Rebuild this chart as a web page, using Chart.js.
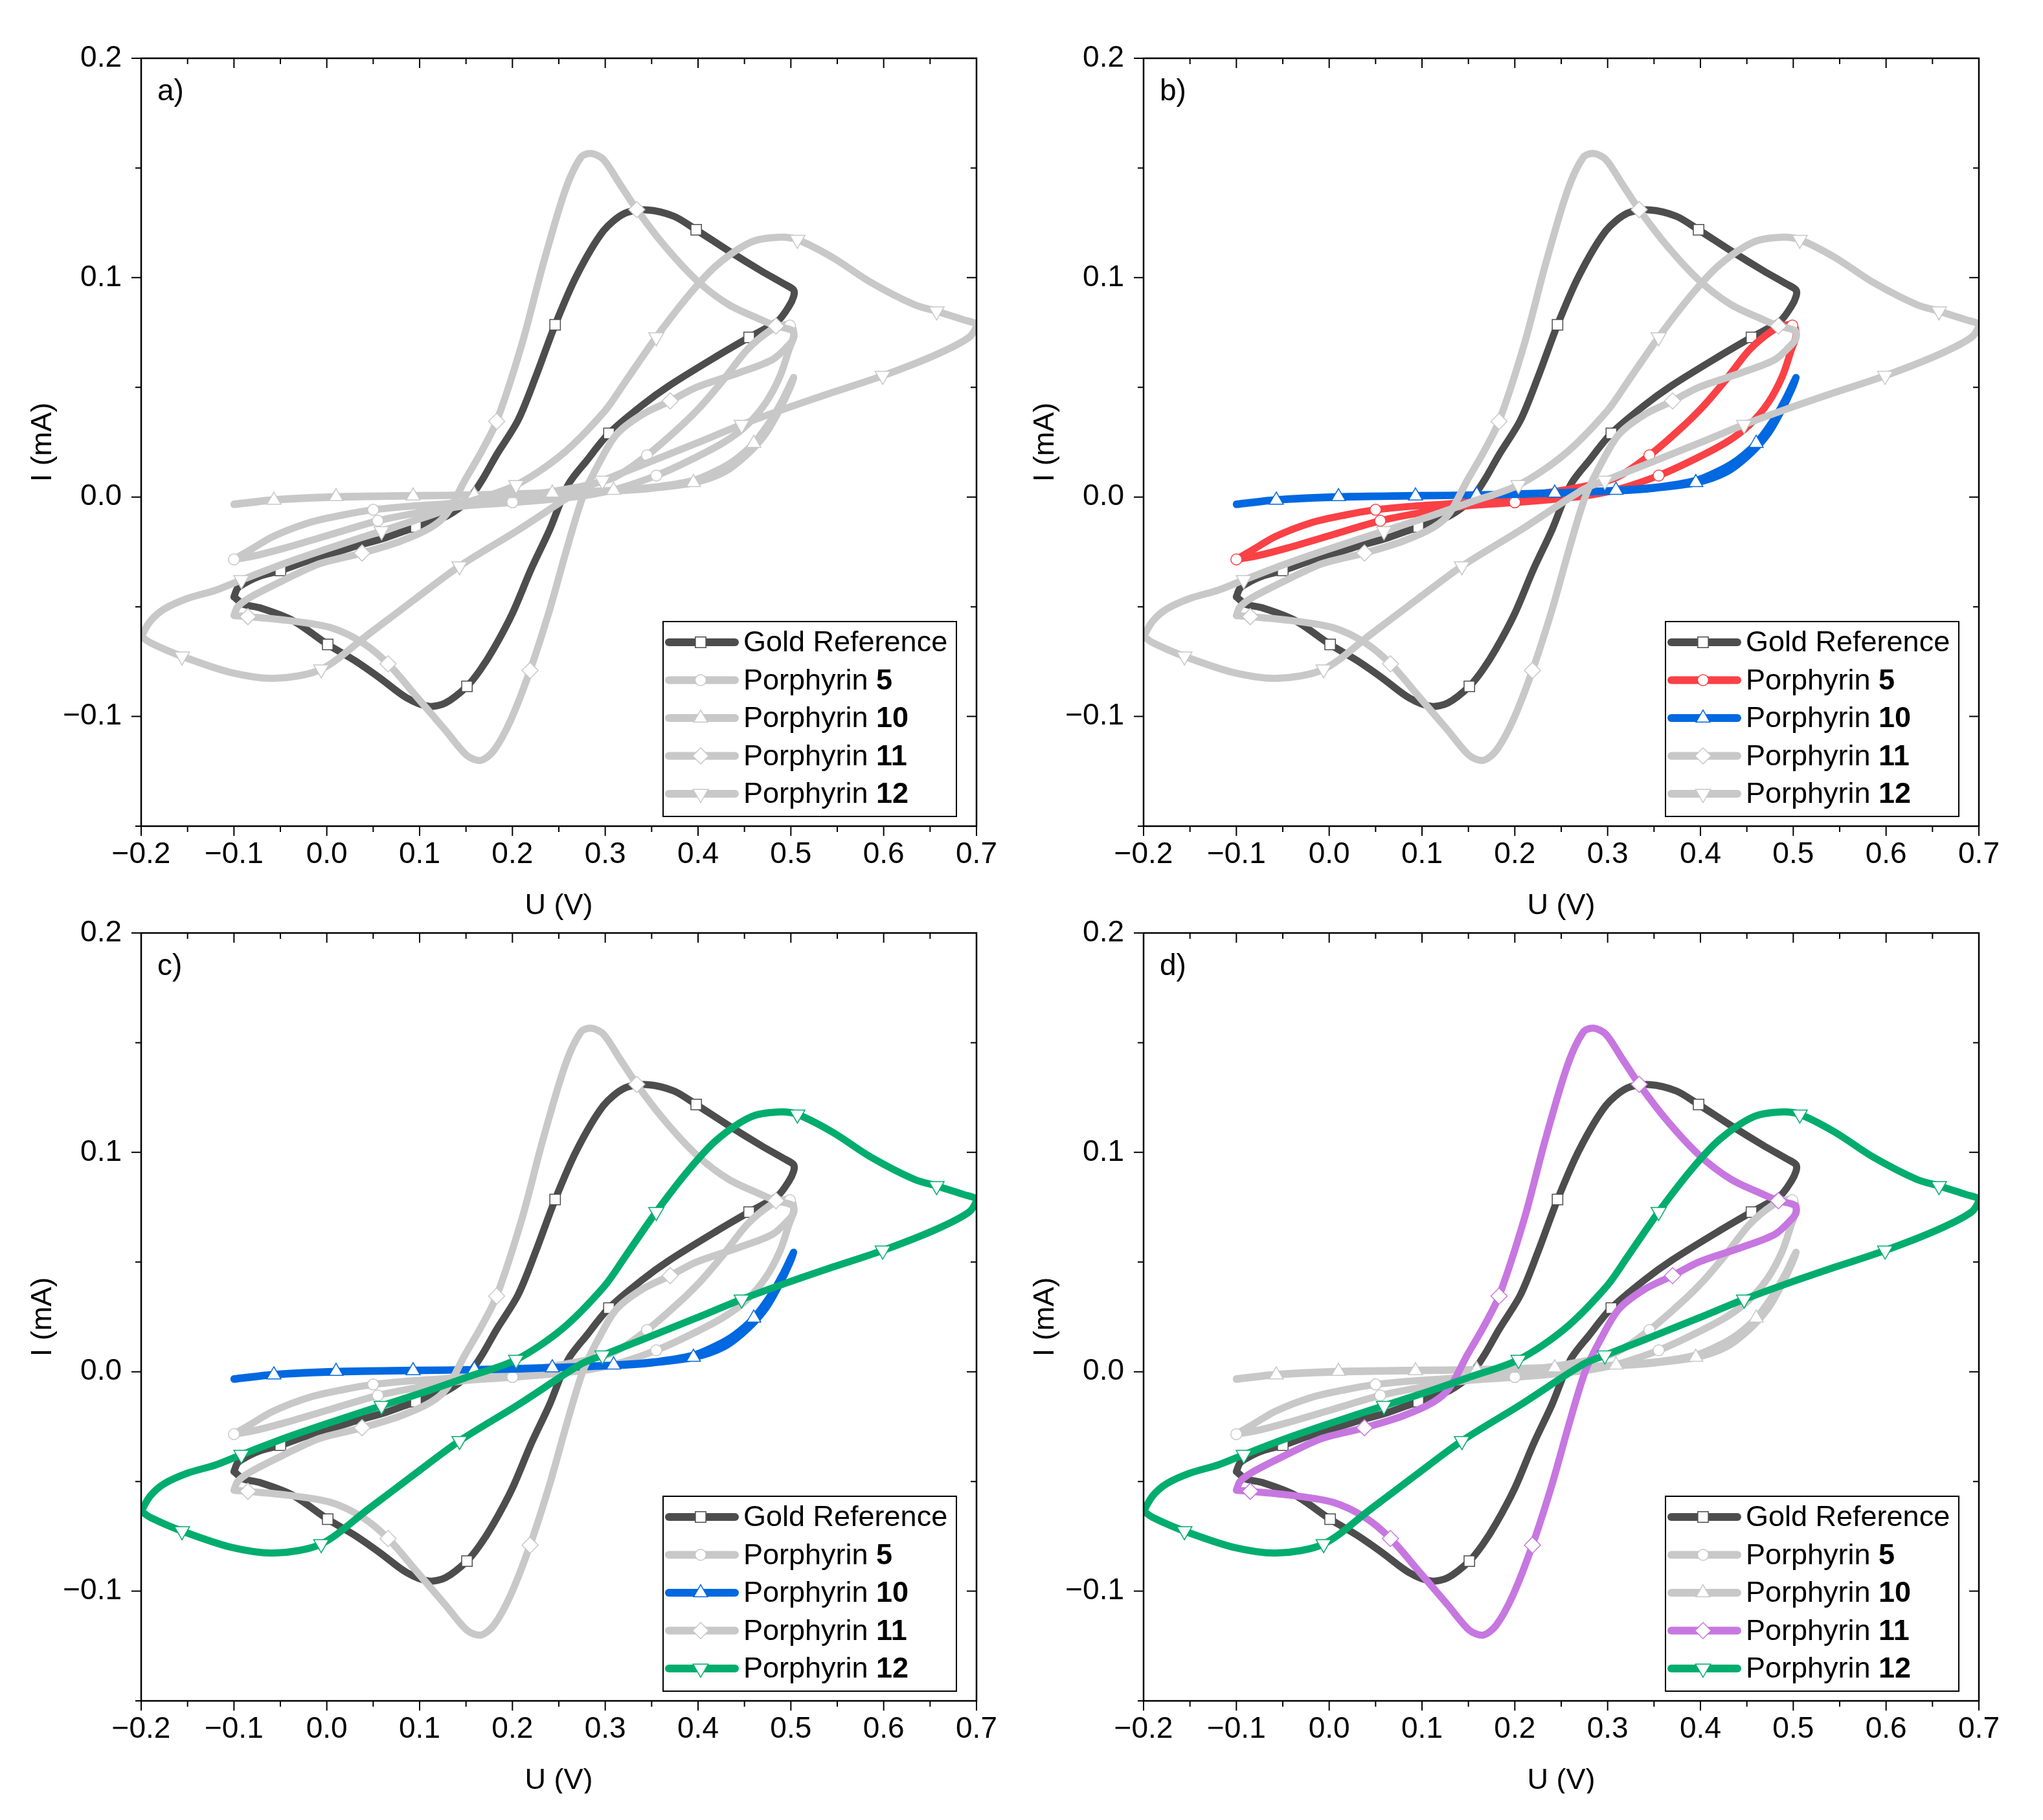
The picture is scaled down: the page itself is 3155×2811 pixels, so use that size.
<!DOCTYPE html>
<html>
<head>
<meta charset="utf-8">
<title>Cyclic voltammograms</title>
<script src="https://cdn.jsdelivr.net/npm/chart.js@4.4.1/dist/chart.umd.min.js"></script>
<style>
  html, body { margin: 0; padding: 0; background: #fff; }
  #figure { position: relative; width: 3155px; height: 2770px; overflow: hidden; }
  #figure canvas { position: absolute; }
</style>
</head>
<body>
<div id="figure">
  <canvas id="panelA" width="1560" height="1440" style="left:0px;top:0px"></canvas>
  <canvas id="panelB" width="1560" height="1440" style="left:1548px;top:0px"></canvas>
  <canvas id="panelC" width="1560" height="1440" style="left:0px;top:1351px"></canvas>
  <canvas id="panelD" width="1560" height="1440" style="left:1548px;top:1351px"></canvas>
</div>
<script>
// axes
const uRange = [-0.2, 0.7];
const iRange = [-0.15, 0.2];
const uTicks = [-0.2, -0.1, 0.0, 0.1, 0.2, 0.3, 0.4, 0.5, 0.6, 0.7];
const iTicks = [-0.1, 0.0, 0.1, 0.2];

// legend text
const seriesNames = ['Gold Reference', 'Porphyrin', 'Porphyrin', 'Porphyrin', 'Porphyrin'];
const seriesNumbers = ['', '5', '10', '11', '12'];

// gold reference, one full cycle from -0.1 V
const goldU = [-0.100, -0.096, -0.085, -0.072, -0.050, -0.020, 0.000, 0.030, 0.060, 0.087, 0.110, 0.130, 0.151, 0.167, 0.183, 0.206, 0.225, 0.246, 0.269, 0.298, 0.321, 0.345, 0.374, 0.398, 0.433, 0.468, 0.492, 0.503,
               0.503, 0.498, 0.486, 0.455, 0.421, 0.369, 0.339, 0.304, 0.280, 0.260, 0.240, 0.220, 0.200, 0.180, 0.165, 0.151, 0.128, 0.110, 0.086, 0.057, 0.030, 0.001, -0.037, -0.072, -0.090, -0.100];
const goldI = [-0.0455, -0.0415, -0.0385, -0.0360, -0.0335, -0.0290, -0.0266, -0.0225, -0.0190, -0.0150, -0.0118, -0.0085, -0.0020, 0.0075, 0.0193, 0.0350, 0.0547, 0.0785, 0.1008, 0.1213, 0.1293, 0.1309, 0.1280, 0.1218, 0.1122, 0.1031, 0.0973, 0.0944,
               0.0915, 0.0870, 0.0803, 0.0728, 0.0644, 0.0508, 0.0416, 0.0290, 0.0166, 0.0055, -0.0150, -0.0330, -0.0530, -0.0690, -0.0790, -0.0863, -0.0938, -0.0954, -0.0915, -0.0824, -0.0745, -0.0672, -0.0562, -0.0505, -0.0488, -0.0455];
const goldMarkU = [-0.050, 0.096, 0.246, 0.398, 0.455, 0.304, 0.151, 0.001];
const goldMarkI = [-0.0335, -0.0136, 0.0785, 0.1218, 0.0728, 0.0290, -0.0863, -0.0672];

// porphyrin 5
const p5U = [-0.100, -0.083, -0.058, -0.020, 0.017, 0.050, 0.092, 0.130, 0.200, 0.270, 0.310, 0.345, 0.378, 0.403, 0.428, 0.453, 0.478, 0.493, 0.501,
             0.503, 0.498, 0.488, 0.473, 0.453, 0.428, 0.390, 0.355, 0.315, 0.283, 0.254, 0.204, 0.154, 0.105, 0.055, 0.005, -0.045, -0.080, -0.100];
const p5I = [-0.0284, -0.0242, -0.0180, -0.0118, -0.0082, -0.0058, -0.0041, -0.0030, 0.0000, 0.0045, 0.0090, 0.0190, 0.0310, 0.0414, 0.0538, 0.0672, 0.0760, 0.0785, 0.0780,
             0.0734, 0.0672, 0.0548, 0.0430, 0.0330, 0.0250, 0.0165, 0.0098, 0.0040, 0.0010, -0.0005, -0.0024, -0.0038, -0.0067, -0.0108, -0.0170, -0.0232, -0.0270, -0.0284];
const p5MarkU = [-0.100, 0.050, 0.200, 0.345, 0.499, 0.355, 0.200, 0.055];
const p5MarkI = [-0.0284, -0.0058, 0.0000, 0.0190, 0.0782, 0.0098, -0.0024, -0.0108];

// porphyrin 10
const p10U = [-0.100, -0.057, 0.000, 0.093, 0.200, 0.243, 0.309, 0.350, 0.395, 0.428, 0.453, 0.473, 0.488, 0.498, 0.503,
              0.500, 0.492, 0.480, 0.460, 0.440, 0.420, 0.395, 0.350, 0.309, 0.243, 0.159, 0.093, 0.010, -0.057, -0.100];
const p10I = [-0.0034, -0.0014, -0.0002, 0.0005, 0.0012, 0.0018, 0.0028, 0.0040, 0.0065, 0.0114, 0.0195, 0.0290, 0.0400, 0.0488, 0.0545,
              0.0520, 0.0450, 0.0360, 0.0245, 0.0170, 0.0120, 0.0076, 0.0044, 0.0031, 0.0020, 0.0010, 0.0007, 0.0002, -0.0012, -0.0032];
const p10MarkU = [-0.057, 0.093, 0.243, 0.395, 0.460, 0.309, 0.159, 0.010];
const p10MarkI = [-0.0014, 0.0005, 0.0018, 0.0066, 0.0245, 0.0031, 0.0010, 0.0002];

// porphyrin 11
const p11U = [-0.100, -0.096, -0.083, -0.045, -0.008, 0.038, 0.080, 0.112, 0.129, 0.149, 0.167, 0.183, 0.210, 0.233, 0.257, 0.274, 0.285, 0.298, 0.316, 0.334, 0.363, 0.398, 0.433, 0.468, 0.484, 0.502,
              0.503, 0.497, 0.480, 0.445, 0.398, 0.370, 0.339, 0.312, 0.293, 0.276, 0.258, 0.240, 0.219, 0.198, 0.180, 0.166, 0.151, 0.128, 0.098, 0.066, 0.039, 0.004, -0.043, -0.085, -0.100];
const p11I = [-0.0540, -0.0500, -0.0458, -0.0376, -0.0304, -0.0255, -0.0200, -0.0139, -0.0077, 0.0078, 0.0210, 0.0345, 0.0694, 0.1060, 0.1400, 0.1550, 0.1566, 0.1539, 0.1425, 0.1310, 0.1150, 0.0990, 0.0877, 0.0808, 0.0780, 0.0758,
              0.0725, 0.0690, 0.0626, 0.0568, 0.0500, 0.0438, 0.0374, 0.0285, 0.0152, 0.0003, -0.0245, -0.0515, -0.0790, -0.1018, -0.1155, -0.1200, -0.1178, -0.1064, -0.0916, -0.0760, -0.0665, -0.0595, -0.0562, -0.0545, -0.0540];
const p11MarkU = [0.038, 0.183, 0.334, 0.484, 0.370, 0.219, 0.066, -0.085];
const p11MarkI = [-0.0255, 0.0345, 0.1310, 0.0780, 0.0438, -0.0790, -0.0760, -0.0545];

// porphyrin 12
const p12U = [-0.200, -0.190, -0.175, -0.150, -0.120, -0.092, -0.043, 0.004, 0.059, 0.104, 0.151, 0.204, 0.253, 0.299, 0.322, 0.355, 0.392, 0.421, 0.457, 0.486, 0.507, 0.545, 0.586, 0.633, 0.657, 0.686, 0.700,
              0.692, 0.656, 0.599, 0.545, 0.498, 0.447, 0.398, 0.339, 0.297, 0.274, 0.206, 0.143, 0.092, 0.045, -0.006, -0.055, -0.102, -0.156, -0.190, -0.200];
const p12I = [-0.0635, -0.0565, -0.0510, -0.0462, -0.0425, -0.0378, -0.0299, -0.0231, -0.0155, -0.0094, -0.0025, 0.0055, 0.0193, 0.0390, 0.0528, 0.0729, 0.0930, 0.1060, 0.1162, 0.1184, 0.1173, 0.1092, 0.0979, 0.0877, 0.0847, 0.0808, 0.0785,
              0.0728, 0.0648, 0.0553, 0.0477, 0.0409, 0.0330, 0.0245, 0.0145, 0.0075, 0.0035, -0.0151, -0.0315, -0.0475, -0.0625, -0.0785, -0.0826, -0.0801, -0.0726, -0.0664, -0.0635];
const p12MarkU = [-0.092, 0.059, 0.204, 0.355, 0.507, 0.657, 0.599, 0.447, 0.297, 0.143, -0.006, -0.156];
const p12MarkI = [-0.0378, -0.0155, 0.0055, 0.0729, 0.1173, 0.0847, 0.0553, 0.0330, 0.0075, -0.0315, -0.0785, -0.0726];

// panels: which series get their own colour
const panelLetters = ['a)', 'b)', 'c)', 'd)'];
const panelHighlight = [[], [1, 2], [2, 4], [3, 4]];

// styles
const activeColors = ['#4d4d4d', '#fa4146', '#0068e0', '#c777e0', '#00ad6e'];
const mutedColor = '#c8c8c8';
const markerStyles = ['rect', 'circle', 'triangle', 'rectRot', 'triangle'];
const markerRotation = [0, 0, 0, 0, 180];
const markerRadius = [11.5, 8.5, 12.5, 12.5, 13.5];
const lineWidth = 11;

const seriesU = [goldU, p5U, p10U, p11U, p12U];
const seriesI = [goldI, p5I, p10I, p11I, p12I];
const markU = [goldMarkU, p5MarkU, p10MarkU, p11MarkU, p12MarkU];
const markI = [goldMarkI, p5MarkI, p10MarkI, p11MarkI, p12MarkI];

Chart.defaults.font.family = "'Liberation Sans', Arial, sans-serif";
Chart.defaults.font.size = 46;
Chart.defaults.color = '#000';

function zip(u, i) {
  return u.map((v, k) => ({ x: v, y: i[k] }));
}

function fmt(v) {
  return (v < 0 ? '\u2212' : '') + Math.abs(v).toFixed(1);
}

function drawMarker(ctx, style, rot, r, x, y) {
  ctx.beginPath();
  if (style === 'circle') {
    ctx.arc(x, y, r, 0, Math.PI * 2);
  } else if (style === 'rect') {
    const s = r * Math.SQRT1_2;
    ctx.rect(x - s, y - s, 2 * s, 2 * s);
  } else if (style === 'rectRot') {
    ctx.moveTo(x, y - r); ctx.lineTo(x + r, y); ctx.lineTo(x, y + r); ctx.lineTo(x - r, y);
    ctx.closePath();
  } else {
    let a = rot * Math.PI / 180;
    for (let k = 0; k < 3; k++) {
      const px = x + Math.sin(a) * r, py = y - Math.cos(a) * r;
      if (k === 0) ctx.moveTo(px, py); else ctx.lineTo(px, py);
      a += 2 * Math.PI / 3;
    }
    ctx.closePath();
  }
  ctx.fill();
  ctx.stroke();
}

// frame with ticks on all four sides (outward left/bottom, inward top/right)
const framePlugin = {
  id: 'frame',
  afterDatasetsDraw(chart) {
    const { ctx, chartArea: a, scales: { x, y } } = chart;
    const major = 15, minor = 9;
    const du = (uTicks[1] - uTicks[0]) / 2, di = (iTicks[1] - iTicks[0]) / 2;
    ctx.save();
    ctx.strokeStyle = '#000';
    ctx.lineWidth = 2;
    ctx.beginPath();
    for (let v = uRange[0]; v <= uRange[1] + 1e-9; v += du) {
      const len = uTicks.some(t => Math.abs(t - v) < 1e-6) ? major : minor;
      const px = x.getPixelForValue(v);
      ctx.moveTo(px, a.bottom); ctx.lineTo(px, a.bottom + len);
      ctx.moveTo(px, a.top); ctx.lineTo(px, a.top + len);
    }
    for (let v = iRange[0]; v <= iRange[1] + 1e-9; v += di) {
      const len = iTicks.some(t => Math.abs(t - v) < 1e-6) ? major : minor;
      const py = y.getPixelForValue(v);
      ctx.moveTo(a.left - len, py); ctx.lineTo(a.left, py);
      ctx.moveTo(a.right - len, py); ctx.lineTo(a.right, py);
    }
    ctx.stroke();
    ctx.lineWidth = 2.5;
    ctx.strokeRect(a.left, a.top, a.right - a.left, a.bottom - a.top);
    ctx.restore();
  }
};

// legend box with bold compound numbers, plus panel letter
const legendPlugin = {
  id: 'cvLegend',
  afterDraw(chart, args, opts) {
    const { ctx, chartArea: a } = chart;
    const colors = opts.colors;
    const bx = a.right - 484, by = a.bottom - 316, bw = 453, bh = 301;
    ctx.save();
    ctx.fillStyle = '#fff';
    ctx.fillRect(bx, by, bw, bh);
    ctx.strokeStyle = '#000';
    ctx.lineWidth = 2;
    ctx.strokeRect(bx, by, bw, bh);
    seriesNames.forEach((name, k) => {
      const cy = by + 32 + k * 58.5;
      ctx.strokeStyle = colors[k];
      ctx.lineWidth = 12;
      ctx.lineCap = 'round';
      ctx.beginPath();
      ctx.moveTo(bx + 9, cy); ctx.lineTo(bx + 111, cy);
      ctx.stroke();
      ctx.fillStyle = '#fff';
      ctx.lineWidth = 1.5;
      drawMarker(ctx, markerStyles[k], markerRotation[k], markerRadius[k], bx + 58, cy);
      ctx.fillStyle = '#000';
      ctx.textBaseline = 'middle';
      ctx.font = "45px 'Liberation Sans', Arial, sans-serif";
      const label = seriesNumbers[k] ? name + ' ' : name;
      ctx.fillText(label, bx + 124, cy + 2);
      if (seriesNumbers[k]) {
        const w = ctx.measureText(label).width;
        ctx.font = "bold 45px 'Liberation Sans', Arial, sans-serif";
        ctx.fillText(seriesNumbers[k], bx + 124 + w, cy + 2);
      }
    });
    ctx.font = "46px 'Liberation Sans', Arial, sans-serif";
    ctx.textBaseline = 'alphabetic';
    ctx.fillText(opts.letter, a.left + 25, a.top + 65);
    ctx.restore();
  }
};

function buildPanel(canvasId, p) {
  const colors = activeColors.map((c, k) => (k === 0 || panelHighlight[p].includes(k)) ? c : mutedColor);
  const datasets = [];
  seriesU.forEach((u, k) => {
    datasets.push({
      label: seriesNames[k] + ' ' + seriesNumbers[k],
      data: zip(u, seriesI[k]),
      showLine: true,
      borderColor: colors[k],
      borderWidth: lineWidth,
      borderCapStyle: 'round',
      borderJoinStyle: 'round',
      tension: 0.3,
      pointRadius: 0,
      clip: 0,
      order: 10 - 2 * k
    });
    datasets.push({
      label: seriesNames[k] + ' markers',
      data: zip(markU[k], markI[k]),
      showLine: false,
      pointStyle: markerStyles[k],
      rotation: markerRotation[k],
      pointRadius: markerRadius[k],
      pointBackgroundColor: '#fff',
      pointBorderColor: colors[k],
      pointBorderWidth: 1.5,
      clip: 0,
      order: 9 - 2 * k
    });
  });

  new Chart(document.getElementById(canvasId), {
    type: 'scatter',
    data: { datasets: datasets },
    options: {
      responsive: false,
      animation: false,
      devicePixelRatio: 1,
      layout: { padding: { left: 0, top: 90, right: 52, bottom: 0 } },
      plugins: {
        legend: { display: false },
        tooltip: { enabled: false },
        cvLegend: { colors: colors, letter: panelLetters[p] }
      },
      scales: {
        x: {
          type: 'linear',
          min: uRange[0],
          max: uRange[1],
          grid: { display: false, drawTicks: false },
          border: { display: false },
          afterBuildTicks: s => { s.ticks = uTicks.map(v => ({ value: v })); },
          afterFit: s => { s.height = 164; s.paddingLeft = 0; s.paddingRight = 0; },
          ticks: { autoSkip: false, maxRotation: 0, padding: 17, callback: v => fmt(v) },
          title: { display: true, text: 'U (V)', font: { size: 45 }, padding: { top: 0, bottom: 13 } }
        },
        y: {
          type: 'linear',
          min: iRange[0],
          max: iRange[1],
          grid: { display: false, drawTicks: false },
          border: { display: false },
          afterBuildTicks: s => { s.ticks = iTicks.map(v => ({ value: v })); },
          afterFit: s => { s.width = 218; s.paddingTop = 0; s.paddingBottom = 0; },
          ticks: { autoSkip: false, padding: 30, callback: v => fmt(v) },
          title: { display: true, text: 'I (mA)', font: { size: 45 }, padding: { top: 40, bottom: 0 } }
        }
      }
    },
    plugins: [framePlugin, legendPlugin]
  });
}

['panelA', 'panelB', 'panelC', 'panelD'].forEach((id, p) => buildPanel(id, p));
</script>
</body>
</html>
